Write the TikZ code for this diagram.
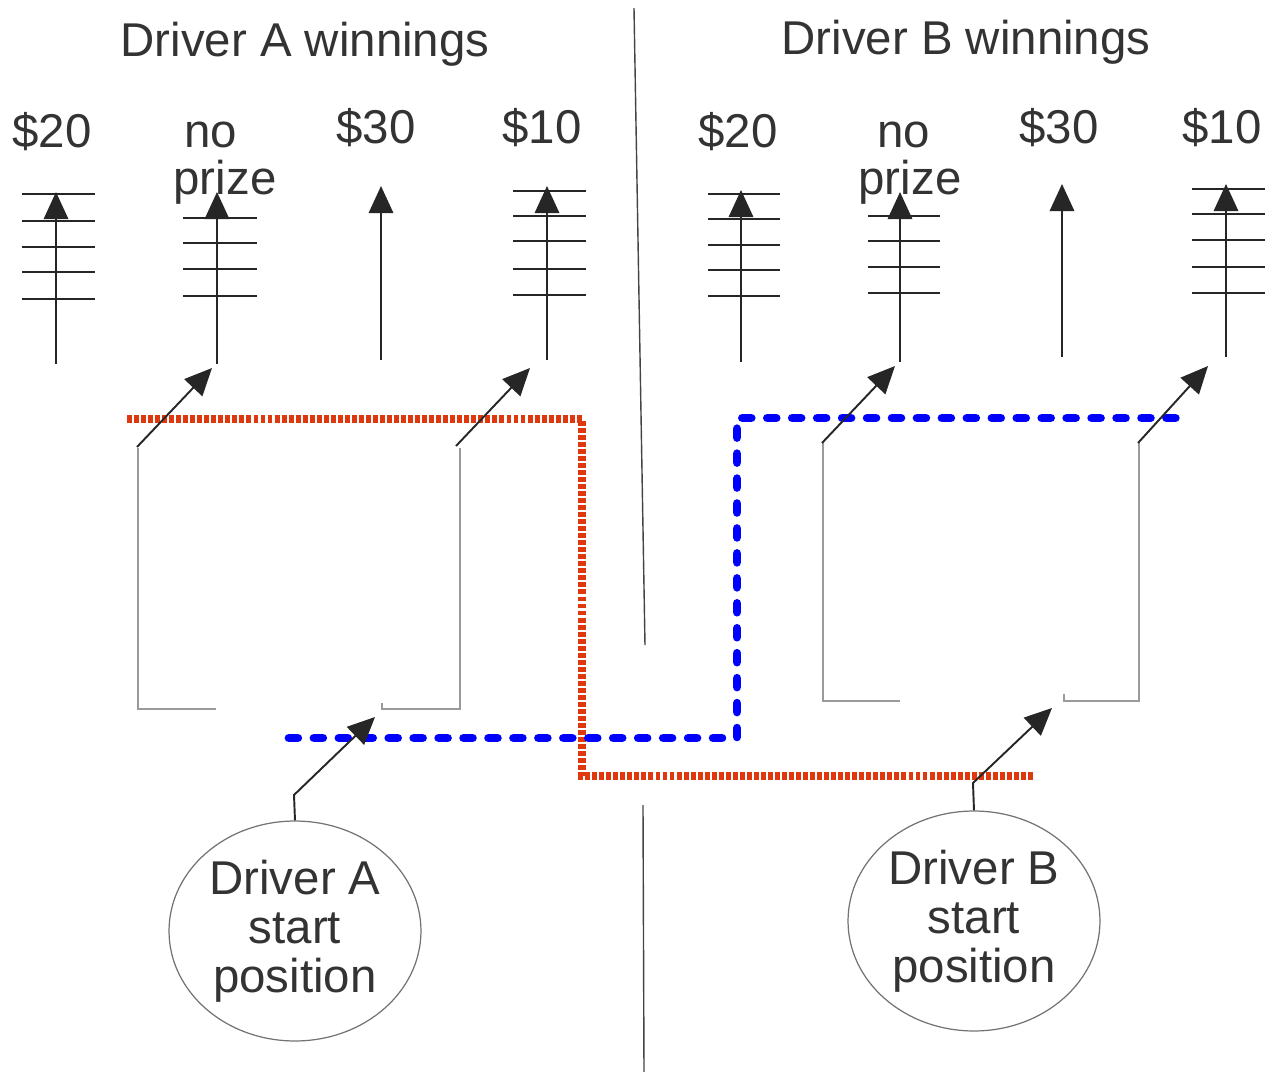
\documentclass[tikz,border=0pt]{standalone}
\usepackage{fontspec}
\setmainfont{Liberation Sans}
\usetikzlibrary{arrows.meta,shapes.geometric}

\definecolor{inkgrey}{HTML}{333333}
\definecolor{boxgrey}{HTML}{9A9A9A}
\definecolor{divgrey}{HTML}{444444}
\definecolor{routeA}{HTML}{E0380E}
\definecolor{routeB}{HTML}{0000FF}

\tikzset{
  lbl/.style={font=\fontsize{27}{28}\selectfont, text=inkgrey, inner sep=0pt, anchor=base},
  startnode/.style={ellipse, draw=black!55, line width=0.7pt, minimum width=5.04cm,
    minimum height=4.4cm, inner sep=0pt, align=center,
    font=\fontsize{27}{28}\selectfont, text=inkgrey},
  pole/.style={draw=black!85, line width=1.1pt, -{Triangle[length=15.5pt,width=14pt]}},
  tickline/.style={draw=black!85, line width=1.1pt},
  lane/.style={draw=boxgrey, line width=0.85pt},
  divider/.style={draw=divgrey, line width=0.8pt},
  routeAline/.style={draw=routeA, line width=4.3pt, dash pattern=on 2.8pt off 1.2pt},
  routeBline/.style={draw=routeB, line width=5pt, line cap=round, dash pattern=on 5pt off 9.2pt},
}

\begin{document}
\begin{tikzpicture}[x=0.02cm, y=-0.02cm]
\useasboundingbox (0,0) rectangle (1276,1072);

% centre divider
\draw[divider] (634,8) -- (645,645);
\draw[divider] (643,805) -- (644,1072);

% headings and prize labels
\node[lbl] (hA) at (305,56) {Driver A winnings};
\node[lbl] (hB) at (966,54) {Driver B winnings};

\node[lbl] (a20) at (52,147) {\$20};
\node[lbl] (ano) at (211,147) {no};
\node[lbl] (apr) at (225,194) {prize};
\node[lbl] (a30) at (376,143) {\$30};
\node[lbl] (a10) at (542,143) {\$10};

\node[lbl] (b20) at (738,147) {\$20};
\node[lbl] (bno) at (904,147) {no};
\node[lbl] (bpr) at (910,194) {prize};
\node[lbl] (b30) at (1059,143) {\$30};
\node[lbl] (b10) at (1222,143) {\$10};

% start positions
\node[startnode] (sA) at (295,931) {Driver A\\start\\position};
\node[startnode] (sB) at (974,921) {Driver B\\start\\position};

% lane boxes
\draw[lane] (138,448) -- (138,709) -- (216,709);
\draw[lane] (382,703) -- (382,709) -- (460,709) -- (460,448);
\draw[lane] (823,443) -- (823,701) -- (900,701);
\draw[lane] (1064,694) -- (1064,701) -- (1139,701) -- (1139,443);

% routes
\draw[routeAline] (127,419) -- (582,419) -- (582,776) -- (1035,776);
\draw[routeBline] (289,738) -- (737,738) -- (737,418) -- (1181,418);

% prize poles
\coordinate (pA1b) at (56,364);   \coordinate (pA1t) at (56,192);
\coordinate (pA2b) at (217,364);  \coordinate (pA2t) at (217,192);
\coordinate (pA3b) at (381,360);  \coordinate (pA3t) at (381,186);
\coordinate (pA4b) at (547,360);  \coordinate (pA4t) at (547,186);
\coordinate (pB1b) at (741,362);  \coordinate (pB1t) at (741,190);
\coordinate (pB2b) at (900,362);  \coordinate (pB2t) at (900,192);
\coordinate (pB3b) at (1062,357); \coordinate (pB3t) at (1062,184);
\coordinate (pB4b) at (1226,357); \coordinate (pB4t) at (1226,184);

\foreach \y in {194,221,247,272,299} \draw[tickline] (22,\y) -- (95,\y);
\foreach \y in {218,243,269,296} \draw[tickline] (183,\y) -- (257,\y);
\foreach \y in {191,216,241,269,295} \draw[tickline] (513,\y) -- (586,\y);
\foreach \y in {194,219,245,270,296} \draw[tickline] (708,\y) -- (780,\y);
\foreach \y in {216,241,267,293} \draw[tickline] (868,\y) -- (940,\y);
\foreach \y in {189,214,240,267,293} \draw[tickline] (1192,\y) -- (1265,\y);

\foreach \p in {A1,A2,A3,A4,B1,B2,B3,B4}
  \draw[pole] (p\p b) -- (p\p t);

% lane exits
\coordinate (eA1) at (137,447); \coordinate (eA1t) at (212,368);
\coordinate (eA2) at (456,446); \coordinate (eA2t) at (530,368);
\coordinate (eB1) at (822,443); \coordinate (eB1t) at (895,366);
\coordinate (eB2) at (1138,443); \coordinate (eB2t) at (1208,366);
\draw[pole] (eA1) -- (eA1t);
\draw[pole] (eA2) -- (eA2t);
\draw[pole] (eB1) -- (eB1t);
\draw[pole] (eB2) -- (eB2t);

% start arrows
\coordinate (kA) at (294,795); \coordinate (tA) at (375,717);
\coordinate (kB) at (973,783); \coordinate (tB) at (1052,708);
\draw[pole] (sA.north) -- (kA) -- (tA);
\draw[pole] (sB.north) -- (kB) -- (tB);
\end{tikzpicture}
\end{document}
